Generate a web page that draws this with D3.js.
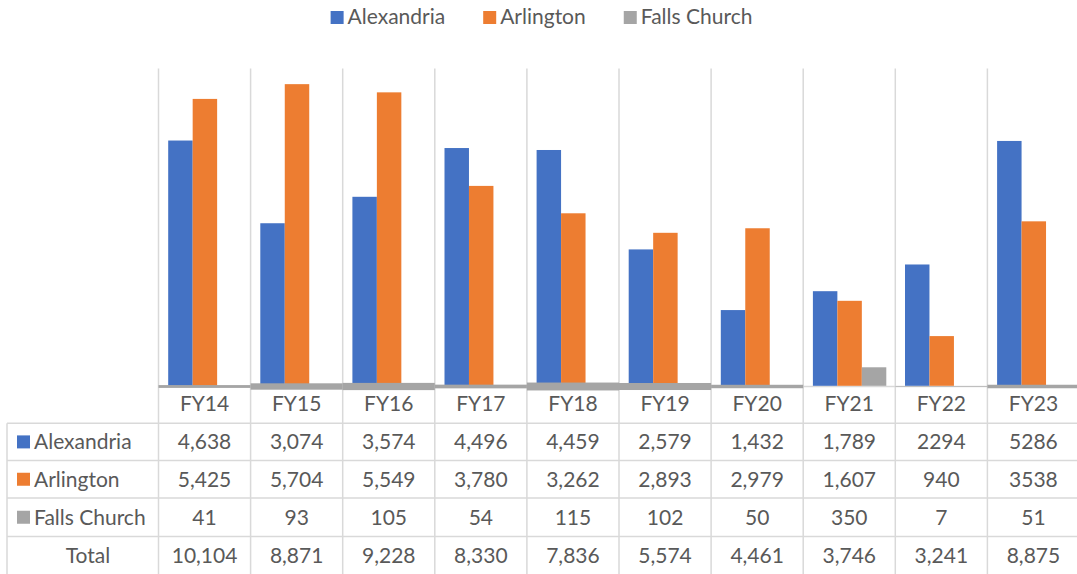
<!DOCTYPE html>
<html>
<head>
<meta charset="utf-8">
<script src="https://cdn.jsdelivr.net/npm/d3@7"></script>
<style>
  html, body { margin: 0; padding: 0; background: #fff; }
  svg { display: block; }
  text { font-family: Lato, "Open Sans", sans-serif; font-size: 21px; fill: #595959; }
</style>
</head>
<body>
<svg id="chart" width="1077" height="574"></svg>
<script>
// ---- data ----
const categories = ["FY14","FY15","FY16","FY17","FY18","FY19","FY20","FY21","FY22","FY23"];
const seriesNames = ["Alexandria","Arlington","Falls Church"];
// bar heights as drawn in the chart
const alexandria  = [4638, 3074, 3574, 4496, 4459, 2579, 1432, 1789, 2294, 4630];
const arlington   = [5425, 5704, 5549, 3780, 3262, 2893, 2979, 1607,  940, 3110];
const fallsChurch = [  41,   93,  105,   54,  115,  102,   50,  350,    7,   51];
// data table text
const tableAlexandria = ["4,638","3,074","3,574","4,496","4,459","2,579","1,432","1,789","2294","5286"];
const tableArlington  = ["5,425","5,704","5,549","3,780","3,262","2,893","2,979","1,607","940","3538"];
const tableFalls      = ["41","93","105","54","115","102","50","350","7","51"];
const tableTotal      = ["10,104","8,871","9,228","8,330","7,836","5,574","4,461","3,746","3,241","8,875"];
const rowLabels = ["Alexandria","Arlington","Falls Church","Total"];
const yDomain = [0, 6000];

// ---- style / layout ----
const colors = {"Alexandria":"#4472C4","Arlington":"#ED7D31","Falls Church":"#A5A5A5"};
const gridColor = "#D9D9D9";
const plotLeft = 158.5, plotRight = 1079.5, plotTop = 68.5, baseY = 385.8;
const tableLeft = 7, H = 574;
const rowLines = [423.3, 460.5, 498, 536.5, 574];
const narrowFalls = new Set(["FY21"]); // drawn as a normal clustered bar

const svg = d3.select("#chart");

const x = d3.scaleBand().domain(categories).range([plotLeft, plotRight]).padding(0);
const bw = x.bandwidth();
const x1 = d3.scaleBand().domain(seriesNames).range([9.7, bw - 9.0]).padding(0);
const y = d3.scaleLinear().domain(yDomain).range([baseY, plotTop]);

const seriesData = {"Alexandria": alexandria, "Arlington": arlington, "Falls Church": fallsChurch};

// vertical grid lines (band edges) through chart and table
const edges = categories.map(c => x(c)).concat([plotRight]);
svg.append("g").selectAll("line").data(edges).join("line")
  .attr("x1", d => d).attr("x2", d => d)
  .attr("y1", plotTop).attr("y2", H)
  .attr("stroke", gridColor).attr("stroke-width", 1.5);

// left border of table
svg.append("line").attr("x1", tableLeft).attr("x2", tableLeft)
  .attr("y1", rowLines[0]).attr("y2", H)
  .attr("stroke", gridColor).attr("stroke-width", 1.5);

// horizontal table lines
svg.append("g").selectAll("line").data(rowLines.slice(0, 4)).join("line")
  .attr("x1", tableLeft).attr("x2", 1077)
  .attr("y1", d => d).attr("y2", d => d)
  .attr("stroke", gridColor).attr("stroke-width", 1.5);

// category axis line
svg.append("line").attr("x1", plotLeft).attr("x2", plotRight)
  .attr("y1", baseY + 0.6).attr("y2", baseY + 0.6)
  .attr("stroke", gridColor).attr("stroke-width", 1.5);

// bars
const barG = svg.append("g");
["Alexandria","Arlington"].forEach(s => {
  barG.append("g").selectAll("rect").data(categories.map((c, i) => ({c, v: seriesData[s][i]}))).join("rect")
    .attr("x", d => x(d.c) + x1(s))
    .attr("width", x1.bandwidth())
    .attr("y", d => y(d.v))
    .attr("height", d => baseY - y(d.v))
    .attr("fill", colors[s]);
});
// Falls Church
barG.append("g").selectAll("rect").data(categories.map((c, i) => ({c, v: fallsChurch[i]}))).join("rect")
  .attr("x", d => narrowFalls.has(d.c) ? x(d.c) + x1("Falls Church") : x(d.c))
  .attr("width", d => narrowFalls.has(d.c) ? x1.bandwidth() : bw)
  .attr("y", d => narrowFalls.has(d.c) ? y(d.v) : (baseY + 0.7) - (baseY - y(d.v)) * 0.65)
  .attr("height", d => narrowFalls.has(d.c) ? baseY - y(d.v) : (baseY - y(d.v)) * 1.3)
  .attr("fill", colors["Falls Church"]);

// category labels
svg.append("g").selectAll("text").data(categories).join("text")
  .attr("x", d => x(d) + bw / 2).attr("y", 411)
  .attr("text-anchor", "middle").text(d => d);

// table rows
const tableRows = [tableAlexandria, tableArlington, tableFalls, tableTotal];
tableRows.forEach((row, r) => {
  const cy = (rowLines[r] + rowLines[r + 1]) / 2;
  svg.append("g").selectAll("text").data(row).join("text")
    .attr("x", (d, i) => x(categories[i]) + bw / 2)
    .attr("y", cy + 7.3)
    .attr("text-anchor", "middle").text(d => d);
  const lbl = rowLabels[r];
  if (r < 3) {
    svg.append("rect").attr("x", 17).attr("y", cy - 6.5).attr("width", 13).attr("height", 13)
      .attr("fill", colors[lbl]);
    svg.append("text").attr("x", 34).attr("y", cy + 7.3).text(lbl);
  } else {
    svg.append("text").attr("x", 88).attr("y", cy + 7.3).attr("text-anchor", "middle").text(lbl);
  }
});

// legend
const leg = svg.append("g");
const legGap = 38;
let cursor = 0;
seriesNames.forEach(s => {
  const g = leg.append("g");
  g.append("rect").attr("x", 0).attr("y", 11).attr("width", 13).attr("height", 13).attr("fill", colors[s]);
  const t = g.append("text").attr("x", 17).attr("y", 23.8).text(s);
  const w = 17 + t.node().getComputedTextLength();
  g.attr("transform", `translate(${cursor},0)`);
  cursor += w + legGap;
});
const totalW = cursor - legGap;
leg.attr("transform", `translate(${541.5 - totalW / 2},0)`);
</script>
</body>
</html>
